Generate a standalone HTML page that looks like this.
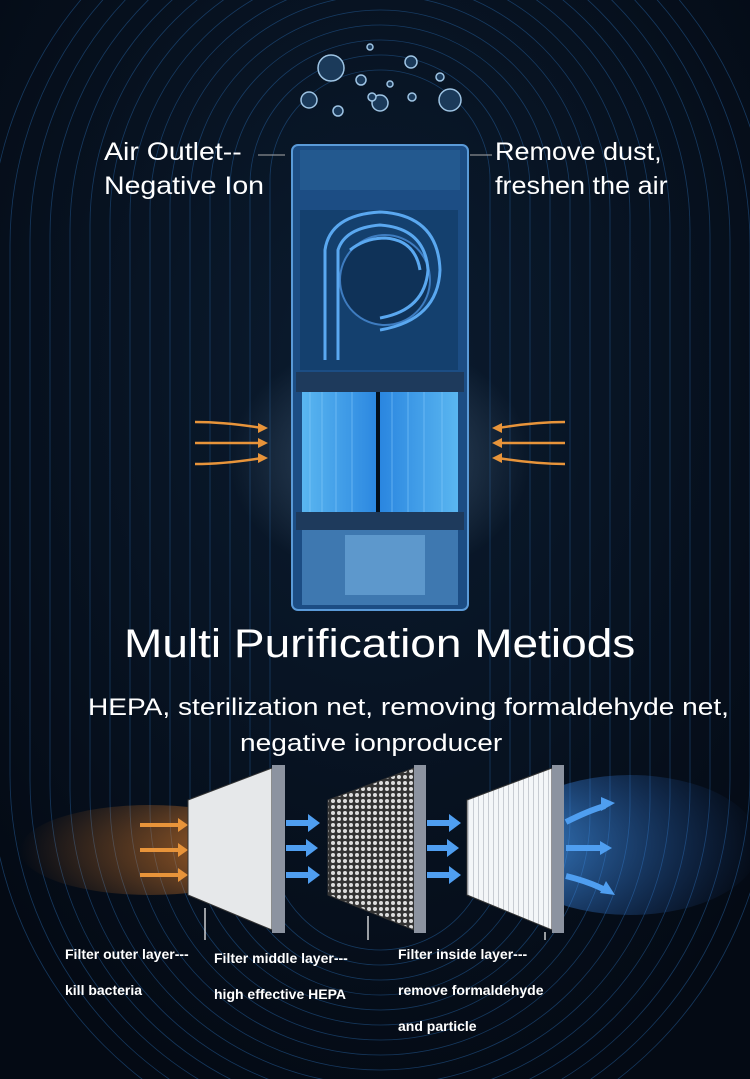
<!DOCTYPE html>
<html style="overflow:hidden"><head><meta charset="utf-8"><style>
html,body{overflow:hidden}
body{margin:0;width:750px;height:1079px;position:relative;background:#06101e;font-family:"Liberation Sans",sans-serif;}
.t{position:absolute;color:#fff;white-space:nowrap;transform-origin:0 0}
</style></head><body>
<svg width="750" height="1079" style="position:absolute;left:0;top:0">
<defs>
<radialGradient id="bg" cx="50%" cy="35%" r="70%"><stop offset="0" stop-color="#0b1c30"/><stop offset="1" stop-color="#040a14"/></radialGradient>
<radialGradient id="org" cx="1" cy="0.5" r="1"><stop offset="0" stop-color="#e8822a"/><stop offset="1" stop-color="#e8822a" stop-opacity="0"/></radialGradient>
<radialGradient id="blu" cx="0" cy="0.5" r="1"><stop offset="0" stop-color="#4aa6ff"/><stop offset="1" stop-color="#2a6ad0" stop-opacity="0"/></radialGradient>
<linearGradient id="flt" x1="0" x2="1"><stop offset="0" stop-color="#5ab6f0"/><stop offset="0.5" stop-color="#2a86e0"/><stop offset="1" stop-color="#5ab6f0"/></linearGradient>
<radialGradient id="glow" cx="0.5" cy="0.5" r="0.5"><stop offset="0" stop-color="#8fb8e0" stop-opacity="0.35"/><stop offset="1" stop-color="#8fb8e0" stop-opacity="0"/></radialGradient>
<pattern id="hex" width="6" height="6" patternUnits="userSpaceOnUse"><rect width="6" height="6" fill="#333"/><circle cx="3" cy="3" r="2" fill="#ddd"/></pattern>
<pattern id="str" width="5" height="10" patternUnits="userSpaceOnUse"><rect width="5" height="10" fill="#f4f6f8"/><rect x="3" width="1" height="10" fill="#c8ccd2"/></pattern>
</defs>
<rect width="750" height="1079" fill="url(#bg)"/>
<g fill="none" stroke="#21568e" stroke-width="0.8" opacity="0.6">
<rect x="270" y="70" width="220" height="880" rx="110"/>
<rect x="250" y="55" width="260" height="910" rx="130"/>
<rect x="230" y="40" width="300" height="940" rx="150"/>
<rect x="210" y="25" width="340" height="970" rx="170"/>
<rect x="190" y="10" width="380" height="1000" rx="190"/>
<rect x="170" y="-5" width="420" height="1030" rx="210"/>
<rect x="150" y="-20" width="460" height="1060" rx="230"/>
<rect x="130" y="-35" width="500" height="1090" rx="250"/>
<rect x="110" y="-50" width="540" height="1120" rx="270"/>
<rect x="90" y="-65" width="580" height="1150" rx="290"/>
<rect x="70" y="-80" width="620" height="1180" rx="310"/>
<rect x="50" y="-95" width="660" height="1210" rx="330"/>
<rect x="30" y="-110" width="700" height="1240" rx="350"/>
<rect x="10" y="-125" width="740" height="1270" rx="370"/>
<rect x="-10" y="-140" width="780" height="1300" rx="390"/>
</g>
<ellipse cx="380" cy="460" rx="150" ry="120" fill="url(#glow)"/>
<g fill="#1b3a5a" stroke="#9ec4e4" stroke-width="1.5">
<circle cx="331" cy="68" r="13"/><circle cx="450" cy="100" r="11"/><circle cx="309" cy="100" r="8"/><circle cx="380" cy="103" r="8"/>
<circle cx="361" cy="80" r="5"/><circle cx="372" cy="97" r="4"/><circle cx="411" cy="62" r="6"/><circle cx="440" cy="77" r="4"/>
<circle cx="338" cy="111" r="5"/><circle cx="370" cy="47" r="3"/><circle cx="412" cy="97" r="4"/><circle cx="390" cy="84" r="3"/>
</g>
<rect x="292" y="145" width="176" height="465" rx="6" fill="#1c4d84" stroke="#5a9ad8" stroke-width="2"/>
<rect x="300" y="150" width="160" height="40" fill="#23598f"/>
<rect x="300" y="210" width="158" height="160" fill="#14406e"/>
<circle cx="385" cy="280" r="45" fill="#0f3258" stroke="#3e7cc0" stroke-width="2"/>
<g fill="none" stroke="#5aa8f0" stroke-width="3">
<path d="M325 360 V250 Q330 215 380 212 Q438 215 440 270 Q438 320 380 330"/>
<path d="M338 360 V250 Q345 228 380 225 Q425 228 428 270 Q425 310 380 318"/>
<path d="M350 250 Q365 238 385 238 Q415 240 420 270"/>
</g>
<rect x="296" y="372" width="168" height="20" fill="#1e3a5c"/>
<rect x="302" y="392" width="156" height="122" fill="url(#flt)"/>
<g stroke="#8ed0ff" stroke-width="1" opacity="0.5">
<line x1="310" y1="392" x2="310" y2="514"/><line x1="322" y1="392" x2="322" y2="514"/><line x1="336" y1="392" x2="336" y2="514"/><line x1="352" y1="392" x2="352" y2="514"/><line x1="392" y1="392" x2="392" y2="514"/><line x1="408" y1="392" x2="408" y2="514"/><line x1="424" y1="392" x2="424" y2="514"/><line x1="442" y1="392" x2="442" y2="514"/></g>
<rect x="376" y="392" width="4" height="122" fill="#03101e"/>
<rect x="296" y="512" width="168" height="18" fill="#1e3a5c"/>
<rect x="302" y="530" width="156" height="75" fill="#3e78b0"/>
<rect x="345" y="535" width="80" height="60" fill="#5d98cc"/>
<g fill="none" stroke="#e8943a" stroke-width="2.5">
<path d="M195 422 Q225 422 262 428"/><path d="M195 443 H262"/><path d="M195 464 Q225 464 262 458"/>
<path d="M565 422 Q535 422 498 428"/><path d="M565 443 H498"/><path d="M565 464 Q535 464 498 458"/>
</g>
<g fill="#e8943a"><path d="M268 428 l-10 -5 v10z"/><path d="M268 443 l-10 -5 v10z"/><path d="M268 458 l-10 -5 v10z"/>
<path d="M492 428 l10 -5 v10z"/><path d="M492 443 l10 -5 v10z"/><path d="M492 458 l10 -5 v10z"/></g>
<line x1="258" y1="155" x2="285" y2="155" stroke="#aaa"/><line x1="470" y1="155" x2="492" y2="155" stroke="#aaa"/>
<ellipse cx="150" cy="850" rx="130" ry="45" fill="url(#org)" opacity="0.8"/>
<ellipse cx="630" cy="845" rx="130" ry="70" fill="url(#blu)" opacity="0.8"/>
<g fill="#e8943a"><path d="M140 823 h38 v-5 l10 7 -10 7 v-5 h-38z"/><path d="M140 848 h38 v-5 l10 7 -10 7 v-5 h-38z"/><path d="M140 873 h38 v-5 l10 7 -10 7 v-5 h-38z"/></g>
<polygon points="188,800 272,768 272,930 188,895" fill="#e6e8ea" stroke="#333"/>
<rect x="272" y="765" width="13" height="168" fill="#8c93a0"/>
<polygon points="328,800 414,768 414,930 328,895" fill="url(#hex)" stroke="#333"/>
<rect x="414" y="765" width="12" height="168" fill="#8c93a0"/>
<polygon points="467,800 552,768 552,930 467,895" fill="url(#str)" stroke="#333"/>
<rect x="552" y="765" width="12" height="168" fill="#8c93a0"/>
<g fill="#4f9ef0">
<path d="M286 820 h22 v-6 l12 9 -12 9 v-6 h-22z"/><path d="M286 845 h20 v-6 l12 9 -12 9 v-6 h-20z"/><path d="M286 872 h22 v-6 l12 9 -12 9 v-6 h-22z"/>
<path d="M427 820 h22 v-6 l12 9 -12 9 v-6 h-22z"/><path d="M427 845 h20 v-6 l12 9 -12 9 v-6 h-20z"/><path d="M427 872 h22 v-6 l12 9 -12 9 v-6 h-22z"/>
</g>
<g fill="none" stroke="#4f9ef0" stroke-width="6"><path d="M566 822 Q590 810 605 806"/><path d="M566 848 H602"/><path d="M566 876 Q590 882 605 890"/></g>
<g fill="#4f9ef0"><path d="M615 803 l-14 -6 v14z"/><path d="M612 848 l-12 -7 v14z"/><path d="M615 895 l-15 -2 6 -12z"/></g>
<g stroke="#fff" stroke-width="1.2"><line x1="205" y1="908" x2="205" y2="940"/><line x1="368" y1="916" x2="368" y2="940"/><line x1="545" y1="932" x2="545" y2="940"/></g>
</svg>
<div class="t" style="left:104px;top:135px;font-size:25px;line-height:34px;transform:scaleX(1.14)">Air Outlet--<br>Negative Ion</div>
<div class="t" style="left:495px;top:135px;font-size:25px;line-height:34px;transform:scaleX(1.08)">Remove dust,<br>freshen the air</div>
<div class="t" style="left:124px;top:622px;font-size:40px;transform:scaleX(1.15)">Multi Purification Metiods</div>
<div class="t" style="left:88px;top:694px;font-size:24px;transform:scaleX(1.17)">HEPA, sterilization net, removing formaldehyde net,</div>
<div class="t" style="left:240px;top:730px;font-size:24px;transform:scaleX(1.17)">negative ionproducer</div>
<div class="t" style="left:65px;top:936px;font-size:14px;line-height:36px;font-weight:bold">Filter outer layer---<br>kill bacteria</div>
<div class="t" style="left:214px;top:940px;font-size:14px;line-height:36px;font-weight:bold">Filter middle layer---<br>high effective HEPA</div>
<div class="t" style="left:398px;top:936px;font-size:14px;line-height:36px;font-weight:bold">Filter inside layer---<br>remove formaldehyde<br>and particle</div>
</body></html>
